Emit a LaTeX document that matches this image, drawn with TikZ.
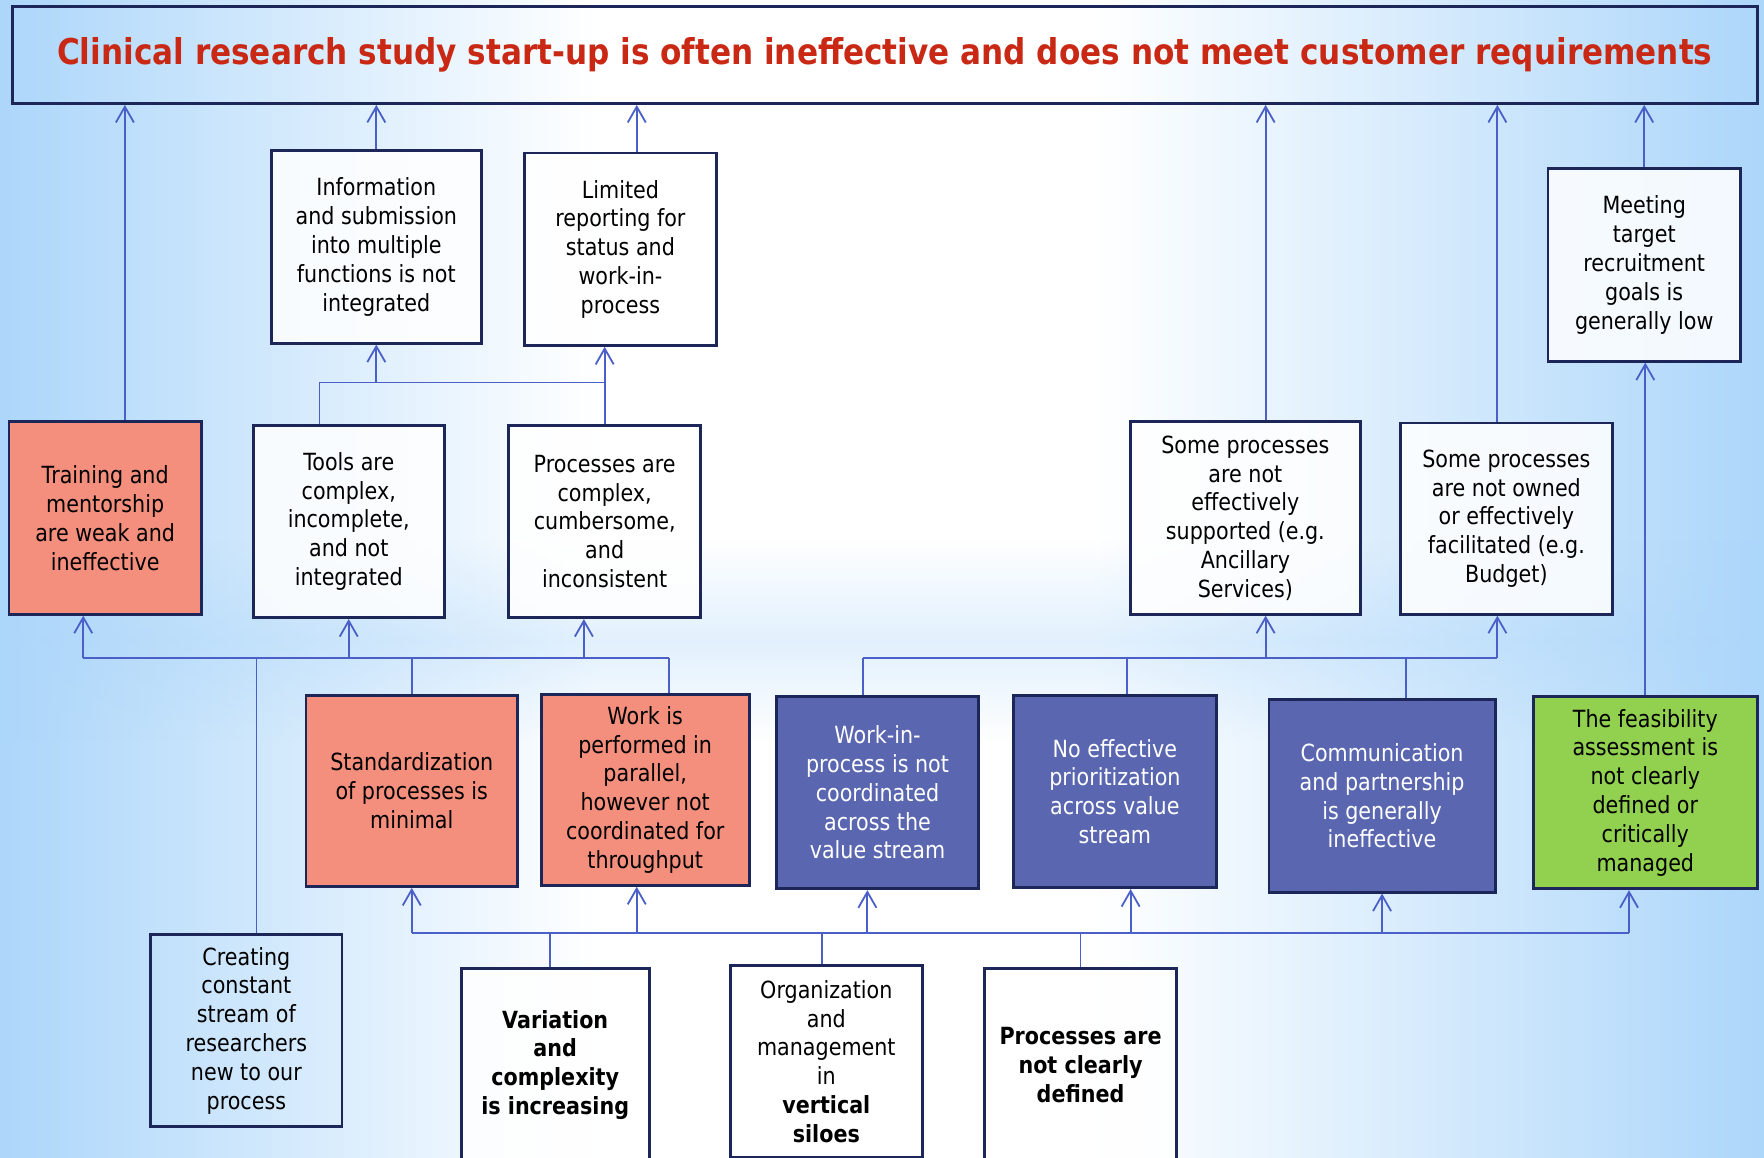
\documentclass[tikz,border=0pt]{standalone}
\usepackage{fontspec}
\setmainfont{DejaVu Sans}[FakeStretch=0.875]
\usepackage{tikz}
\usetikzlibrary{shapes,arrows.meta,fadings}
\definecolor{navy}{RGB}{28,38,88}
\definecolor{wireblue}{RGB}{74,96,200}
\definecolor{salmon}{RGB}{245,143,125}
\definecolor{boxblue}{RGB}{90,103,176}
\definecolor{leafgreen}{RGB}{146,208,80}
\definecolor{titlered}{RGB}{200,40,20}
\definecolor{bgblue}{RGB}{172,214,250}
\pgfdeclarehorizontalshading{bgshade}{100bp}{color(0bp)=(bgblue);
    color(25bp)=(bgblue); color(42bp)=(white); color(56bp)=(white);
    color(75bp)=(bgblue); color(100bp)=(bgblue)}
\tikzfading[name=bandfade, top color=transparent!100,
    bottom color=transparent!100, middle color=transparent!65]
\tikzstyle{block} = [rectangle, draw=navy, line width=1.25pt, fill=white,
    fill opacity=0.85, text opacity=1, align=center, inner sep=0pt,
    minimum width=85.5pt, minimum height=85.5pt,
    font=\fontsize{10.5}{12.8}\selectfont]
\tikzstyle{noblock} = [block, fill=none]
\tikzstyle{redblock} = [block, fill=salmon, fill opacity=1]
\tikzstyle{blueblock} = [block, fill=boxblue, fill opacity=1, text=white]
\tikzstyle{greenblock} = [block, fill=leafgreen, fill opacity=1]
\tikzstyle{line} = [draw=wireblue, line width=0.8pt,
    -{Straight Barb[length=7pt,width=8pt]}]
\tikzstyle{wire} = [draw=wireblue, line width=0.8pt]

\begin{document}
\begin{tikzpicture}[x=0.5pt, y=-0.5pt]
\useasboundingbox (0,0) rectangle (1568,1029.33);
\shade[shading=bgshade] (0,0) rectangle (1568,1029.33);
\fill[bgblue, path fading=bandfade] (0,480) rectangle (1568,660);
    % Place nodes
\node[noblock, minimum width=775.5pt, minimum height=43pt,
    font=\fontsize{15.8}{19}\selectfont\bfseries, text=titlered] (top) at (786.5,49)
    {Clinical research study start-up is often ineffective and does not meet customer requirements};
\node[block, minimum width=93.5pt] (info) at (334.5,219.5)
    {Information\\and submission\\into multiple\\functions is not\\integrated};
\node[block] (limited) at (551.5,221.5)
    {Limited\\reporting for\\status and\\work-in-\\process};
\node[block] (meeting) at (1461.5,235.5)
    {Meeting\\target\\recruitment\\goals is\\generally low};
\node[redblock] (training) at (93.5,460.5)
    {Training and\\mentorship\\are weak and\\ineffective};
\node[block, minimum width=85pt] (tools) at (310,463.5)
    {Tools are\\complex,\\incomplete,\\and not\\integrated};
\node[block] (procs) at (537.5,463.5)
    {Processes are\\complex,\\cumbersome,\\and\\inconsistent};
\node[block, minimum width=102pt] (supported) at (1107,460.5)
    {Some processes\\are not\\effectively\\supported (e.g.\\Ancillary\\Services)};
\node[block, minimum width=94pt, minimum height=85pt] (owned) at (1339,461)
    {Some processes\\are not owned\\or effectively\\facilitated (e.g.\\Budget)};
\node[redblock, minimum width=94pt, minimum height=85pt] (standard) at (366,703)
    {Standardization\\of processes is\\minimal};
\node[redblock, minimum width=92.5pt, minimum height=85pt] (parallel) at (573.5,702)
    {Work is\\performed in\\parallel,\\however not\\coordinated for\\throughput};
\node[blueblock, minimum width=90pt] (wip) at (780,704.5)
    {Work-in-\\process is not\\coordinated\\across the\\value stream};
\node[blueblock, minimum width=90pt] (prio) at (991,703.5)
    {No effective\\prioritization\\across value\\stream};
\node[blueblock, minimum width=100.5pt] (comm) at (1228.5,707.5)
    {Communication\\and partnership\\is generally\\ineffective};
\node[greenblock, minimum width=99.5pt] (feas) at (1462.5,704.5)
    {The feasibility\\assessment is\\not clearly\\defined or\\critically\\managed};
\node[noblock, minimum width=85pt, minimum height=85pt] (creating) at (219,916)
    {Creating\\constant\\stream of\\researchers\\new to our\\process};
\node[block, minimum width=83.5pt] (variation) at (493.5,946.5)
    {\bfseries Variation\\\bfseries and\\\bfseries complexity\\\bfseries is increasing};
\node[block] (organization) at (734.5,943.5)
    {Organization\\and\\management\\in\\\bfseries vertical\\\bfseries siloes};
\node[block] (notdefined) at (960.5,946.5)
    {\bfseries Processes are\\\bfseries not clearly\\\bfseries defined};

\coordinate (hubA) at (334.5,340);
\coordinate (hubB) at (310,585);
\coordinate (hubC) at (1124,585);
\coordinate (hubD) at (731,829);

    % Draw edges
\path [line] ([xshift=8.75pt]training.north) -- ([xshift=8.75pt]training.north |- top.south);
\path [line] (info.north) -- (info.north |- top.south);
\path [line] ([xshift=7.25pt]limited.north) -- ([xshift=7.25pt]limited.north |- top.south);
\path [line] ([xshift=9pt]supported.north) -- ([xshift=9pt]supported.north |- top.south);
\path [line] ([xshift=-4pt]owned.north) -- ([xshift=-4pt]owned.north |- top.south);
\path [line] (meeting.north) -- (meeting.north |- top.south);
\path [line] (feas.north) -- (feas.north |- meeting.south);

\path [wire] ([xshift=-13pt]tools.north) |- (hubA) -| (procs.north);
\path [line] (hubA) -- (info.south);
\path [line] (procs.north) -- (procs.north |- limited.south);

\path [wire] ([xshift=-9.75pt]training.south |- hubB) -- ([xshift=10.75pt]parallel.north |- hubB);
\path [line] ([xshift=-9.75pt]training.south |- hubB) -- ([xshift=-9.75pt]training.south);
\path [line] (hubB) -- (tools.south);
\path [line] ([xshift=-9.25pt]procs.south |- hubB) -- ([xshift=-9.25pt]procs.south);
\path [wire] ([xshift=4.5pt]creating.north) -- ([xshift=4.5pt]creating.north |- hubB);
\path [wire] (standard.north) -- (standard.north |- hubB);
\path [wire] ([xshift=10.75pt]parallel.north) -- ([xshift=10.75pt]parallel.north |- hubB);

\path [wire] ([xshift=-6.5pt]wip.north |- hubC) -- ([xshift=-4pt]owned.south |- hubC);
\path [line] ([xshift=9pt]supported.south |- hubC) -- ([xshift=9pt]supported.south);
\path [line] ([xshift=-4pt]owned.south |- hubC) -- ([xshift=-4pt]owned.south);
\path [wire] ([xshift=-6.5pt]wip.north) -- ([xshift=-6.5pt]wip.north |- hubC);
\path [wire] ([xshift=5.5pt]prio.north) -- ([xshift=5.5pt]prio.north |- hubC);
\path [wire] ([xshift=10.75pt]comm.north) -- ([xshift=10.75pt]comm.north |- hubC);

\path [wire] (standard.south |- hubD) -- ([xshift=-7.25pt]feas.south |- hubD);
\path [line] (standard.south |- hubD) -- (standard.south);
\path [line] ([xshift=-3.75pt]parallel.south |- hubD) -- ([xshift=-3.75pt]parallel.south);
\path [line] ([xshift=-4.5pt]wip.south |- hubD) -- ([xshift=-4.5pt]wip.south);
\path [line] ([xshift=7pt]prio.south |- hubD) -- ([xshift=7pt]prio.south);
\path [line] (comm.south |- hubD) -- (comm.south);
\path [line] ([xshift=-7.25pt]feas.south |- hubD) -- ([xshift=-7.25pt]feas.south);
\path [wire] ([xshift=-2.25pt]variation.north) -- ([xshift=-2.25pt]variation.north |- hubD);
\path [wire] ([xshift=-1.75pt]organization.north) -- (hubD);
\path [wire] (notdefined.north) -- (notdefined.north |- hubD);

\end{tikzpicture}
\end{document}
